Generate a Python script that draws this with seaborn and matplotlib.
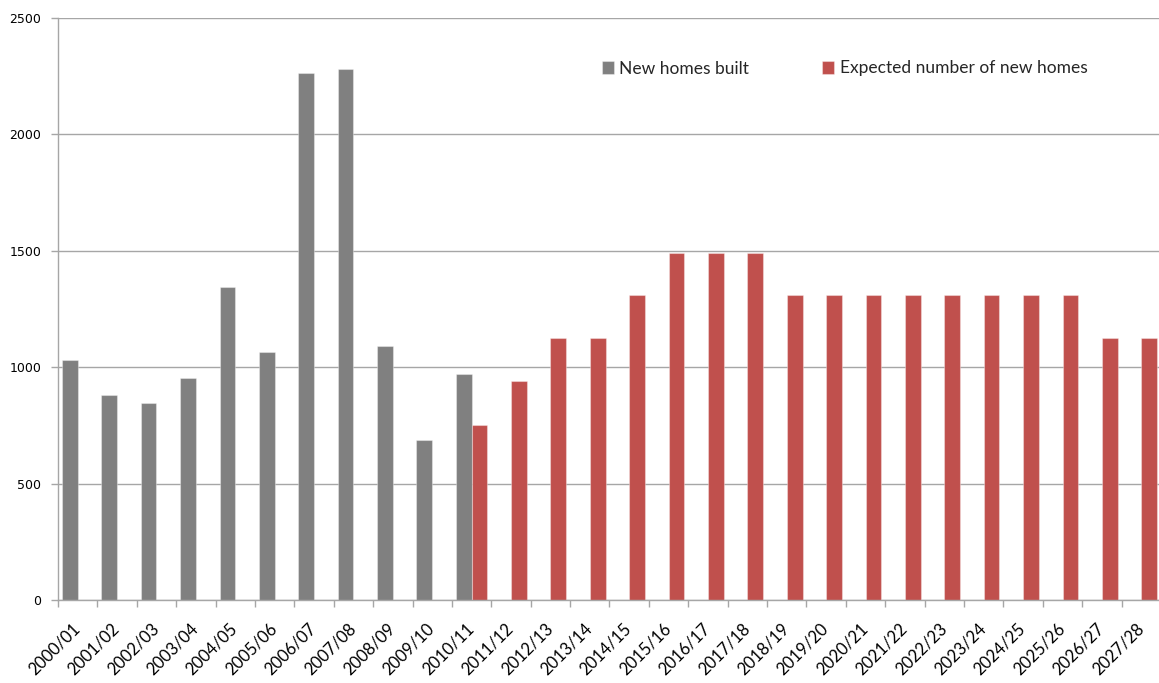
import matplotlib
matplotlib.use("Agg")
import matplotlib.pyplot as plt
import matplotlib.transforms as mtransforms
import seaborn as sns
import pandas as pd
import numpy as np
from matplotlib.ticker import FixedLocator, MultipleLocator

years = ["2000/01", "2001/02", "2002/03", "2003/04", "2004/05", "2005/06", "2006/07",
         "2007/08", "2008/09", "2009/10", "2010/11", "2011/12", "2012/13", "2013/14",
         "2014/15", "2015/16", "2016/17", "2017/18", "2018/19", "2019/20", "2020/21",
         "2021/22", "2022/23", "2023/24", "2024/25", "2025/26", "2026/27", "2027/28"]

built_years = years[:11]
built_values = [1030, 882, 846, 955, 1344, 1065, 2263, 2281, 1090, 688, 970]

expected_years = years[10:]
expected_values = [750, 940, 1125, 1125, 1310, 1490, 1490, 1490, 1310, 1310, 1310,
                   1310, 1310, 1310, 1310, 1310, 1125, 1125]

series_names = ["New homes built", "Expected number of new homes"]
colors = ["#808080", "#C0504D"]

df = pd.concat([
    pd.DataFrame({"year": built_years, "value": built_values, "series": series_names[0]}),
    pd.DataFrame({"year": expected_years, "value": expected_values, "series": series_names[1]}),
], ignore_index=True)

sns.set_theme(style="white")
plt.rcParams["font.family"] = ["DejaVu Sans"]

W, H = 1159, 683
fig = plt.figure(figsize=(W / 100, H / 100), dpi=100)
ax = fig.add_axes([58 / W, 83 / H, (1161 - 58) / W, 582 / H])

sns.barplot(data=df, x="year", y="value", hue="series", order=years,
            hue_order=series_names, palette=colors, width=0.8, errorbar=None,
            ax=ax, saturation=1, linewidth=0.8, edgecolor="none")

# light bar outlines like the original
for p in ax.patches:
    p.set_edgecolor((1, 1, 1, 0.35))
    p.set_linewidth(0.8)

ax.set_xlim(-0.5, len(years) - 0.5)
ax.set_ylim(0, 2500)
ax.yaxis.set_major_locator(MultipleLocator(500))
ax.set_xlabel("")
ax.set_ylabel("")

grid_c = "#a6a6a6"
ax.grid(axis="y", color=grid_c, linewidth=1.0)
ax.set_axisbelow(True)
for s in ["top", "right"]:
    ax.spines[s].set_visible(False)
for s in ["left", "bottom"]:
    ax.spines[s].set_color(grid_c)
    ax.spines[s].set_linewidth(1.0)

# x ticks: boundaries as minor ticks, labels on major ticks
ax.xaxis.set_minor_locator(FixedLocator(np.arange(-0.5, len(years), 1.0)))
ax.tick_params(axis="x", which="minor", length=5, width=1, color=grid_c, direction="out", bottom=True)
ax.tick_params(axis="x", which="major", length=0, pad=14.7)
ax.set_xticks(range(len(years)))
ax.set_xticklabels(years, rotation=45, ha="right", va="top", rotation_mode="anchor",
                   fontsize=12, family=["Lato", "DejaVu Sans"], color="#000000")
shift = mtransforms.ScaledTranslation(-6 / 100, 0, fig.dpi_scale_trans)
for lbl in ax.get_xticklabels():
    lbl.set_transform(lbl.get_transform() + shift)

ax.tick_params(axis="y", which="major", length=5, width=1, color=grid_c, direction="out",
               left=True, pad=7, labelsize=9, labelcolor="#000000")

handles, labels = ax.get_legend_handles_labels()
if ax.get_legend() is not None:
    ax.get_legend().remove()
fig.legend(handles, labels, loc="center left",
           bbox_to_anchor=(602 / W, 1 - 68.5 / H), ncol=2, frameon=False,
           prop={"family": ["Lato", "DejaVu Sans"], "size": 12.5},
           handlelength=0.7, handleheight=0.7, handletextpad=0.3,
           columnspacing=4.2, borderpad=0, borderaxespad=0)

fig.savefig("out.png", dpi=100)
